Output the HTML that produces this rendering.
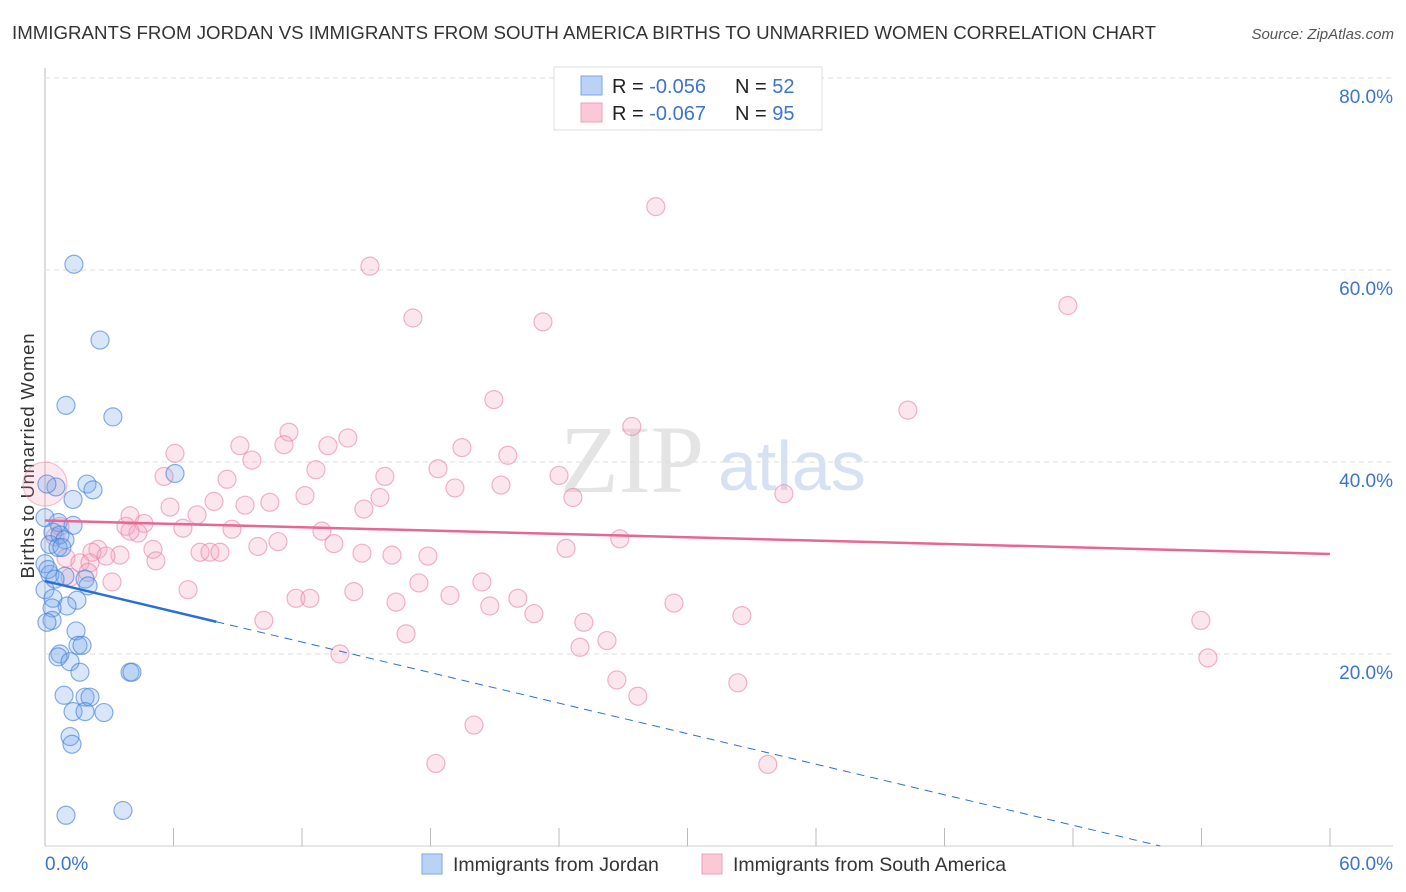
<!DOCTYPE html>
<html><head><meta charset="utf-8"><style>
body{margin:0;background:#fff;font-family:"Liberation Sans",sans-serif;}
#wrap{position:relative;width:1406px;height:892px;overflow:hidden}
</style></head><body>
<div id="wrap">
<svg id="svg" width="1406" height="892" xmlns="http://www.w3.org/2000/svg">
<text x="12" y="39" font-size="18.6" fill="#333" textLength="1144" lengthAdjust="spacingAndGlyphs">IMMIGRANTS FROM JORDAN VS IMMIGRANTS FROM SOUTH AMERICA BIRTHS TO UNMARRIED WOMEN CORRELATION CHART</text>
<text x="1394" y="39" font-size="15" fill="#555" font-style="italic" text-anchor="end">Source: ZipAtlas.com</text>
<text x="0" y="0" transform="translate(34,456) rotate(-90)" font-size="18.5" fill="#333" text-anchor="middle" textLength="245">Births to Unmarried Women</text>
<text x="560" y="492" font-size="96" fill="#e4e4e4" font-family="Liberation Serif,serif">ZIP</text>
<text x="718" y="490" font-size="70" fill="#d6e2f4">atlas</text>
<g id="grid"></g><g id="pts"></g><g id="lines"></g>
<g>
<rect x="554" y="67" width="268" height="63" fill="#fff" stroke="#ddd"/>
<rect x="581" y="76" width="21" height="19" fill="#b9d2f5" stroke="#7aa6e6"/>
<rect x="581" y="103" width="21" height="19" fill="#fac8d7" stroke="#eda1b9"/>
<text x="612" y="93" font-size="20" fill="#222">R = <tspan fill="#3b73d1">-0.056</tspan><tspan x="735">N = </tspan><tspan fill="#3b73d1">52</tspan></text>
<text x="612" y="120" font-size="20" fill="#222">R = <tspan fill="#3b73d1">-0.067</tspan><tspan x="735">N = </tspan><tspan fill="#3b73d1">95</tspan></text>
</g>
<g>
<rect x="422" y="854" width="20" height="20" fill="#b9d2f5" stroke="#7aa6e6"/>
<text x="453" y="871" font-size="19.5" fill="#333">Immigrants from Jordan</text>
<rect x="702" y="854" width="20" height="20" fill="#fac8d7" stroke="#eda1b9"/>
<text x="733" y="871" font-size="19.5" fill="#333">Immigrants from South America</text>
</g>
</svg>
</div>
<script>
const xTicks=[0,6,12,18,24,30,36,42,48,54,60];
const yTicks=[20,40,60,80];
const jordanX=[1.35,2.57,0.98,3.17,6.07,1.96,2.24,0.51,1.31,0,0.61,1.31,0.37,0.7,0.93,0.23,0.61,0,0.23,0.93,1.87,0,0.37,1.49,1.03,0.33,0.33,1.45,1.54,1.73,0.7,0.61,1.17,1.63,3.97,4.06,0.89,1.87,2.1,1.31,1.87,2.75,1.17,1.26,0.98,3.64,0.09,0.14,0.47,0.79,0.09,2.01];
const jordanY=[60.6,52.7,45.9,44.7,38.8,37.7,37.1,37.4,36.1,34.2,33.7,33.4,32.7,32.4,31.9,31.4,31.1,29.4,28.3,28.1,27.8,26.7,25.8,25.6,25,24.8,23.5,22.4,20.9,20.9,20,19.7,19.2,18.1,18.1,18.1,15.7,15.5,15.5,14,14,13.9,11.4,10.6,3.2,3.7,37.7,28.8,27.8,31.1,23.3,27.1];
const saX=[28.52,15.17,47.76,17.18,23.25,20.96,40.29,27.4,11.39,6.07,9.1,14.14,13.21,11.16,19.47,9.66,21.61,5.56,12.65,18.35,15.87,24,8.5,19.14,21.29,7.89,15.64,24.65,9.34,10.5,12.14,34.5,5.84,14.89,3.97,7.1,4.62,3.78,8.73,6.44,0.7,26.84,10.88,12.93,4.34,9.94,13.49,5.04,2.47,2.19,7.24,7.7,8.17,3.5,14.8,16.2,17.88,24.33,5.18,2.85,0.98,1.63,11.72,12.37,3.13,6.68,17.46,20.4,18.91,14.42,22.08,16.39,20.77,29.37,22.83,10.22,25.16,32.54,53.97,16.86,26.24,24.98,13.77,54.3,26.7,32.35,27.68,20.03,18.25,33.75,2.1,1.17,2.01,3.97,0.47];
const saY=[66.6,60.4,56.3,55,54.6,46.5,45.4,43.7,43.1,40.9,41.7,42.5,41.7,41.8,41.5,40.2,40.7,38.5,39.2,39.3,38.5,38.6,38.2,37.3,37.6,35.9,36.3,36.3,35.5,35.8,36.5,36.7,35.3,35.1,34.4,34.5,33.6,33.3,33,33.1,33.3,32,31.7,32.8,32.6,31.2,31.5,30.9,30.9,30.6,30.6,30.6,30.6,30.3,30.5,30.3,30.2,31,29.7,30.2,30,29.5,25.8,25.8,27.5,26.7,27.4,27.5,26.1,26.5,25.8,25.4,25,25.3,24.2,23.5,23.3,24,23.5,22.1,21.4,20.7,20,19.6,17.3,17,15.6,12.6,8.6,8.5,29.5,28,28.5,32.8,32.2];
const jordanTrend=[27.6,-0.53]; const saTrend=[33.9,-0.058];
const X=v=>45+v*(1285/60), Y=v=>846-v*9.6;
const NS='http://www.w3.org/2000/svg';
function mk(tag,attrs,parent){const e=document.createElementNS(NS,tag);for(const k in attrs)e.setAttribute(k,attrs[k]);parent.appendChild(e);return e;}
const svg=document.getElementById('svg'),grid=document.getElementById('grid'),pts=document.getElementById('pts'),lines=document.getElementById('lines');
mk('line',{x1:45,y1:68,x2:45,y2:846,stroke:'#bbb'},grid);
mk('line',{x1:45,y1:846,x2:1393,y2:846,stroke:'#ccc'},grid);
yTicks.forEach(t=>{
 const l=mk('line',{x1:45,y1:Y(t),x2:1393,y2:Y(t),stroke:'#ddd','stroke-dasharray':'5,4'},grid);
 
 
 const tx=mk('text',{x:1393,y:Y(t)+25,'font-size':19,fill:'#3b73d1','text-anchor':'end'},grid);tx.textContent=t.toFixed(1)+'%';
 
 
});
xTicks.forEach(t=>{
 const l=mk('line',{x1:X(t),y1:828,x2:X(t),y2:846,stroke:'#bbb'},grid);
 
 
});
[[0,'start',45],[60,'end',1393]].forEach(([t,a,x])=>{const tx=mk('text',{x:x,y:870,'font-size':19,fill:'#3b73d1','text-anchor':a},grid);tx.textContent=t.toFixed(1)+'%';
 
 });
const big=mk('circle',{cx:X(0),cy:Y(37.7),r:22,fill:'rgba(240,140,170,0.2)',stroke:'rgba(232,130,165,0.5)'},pts);


saX.forEach((v,i)=>{const c=mk('circle',{cx:X(v),cy:Y(saY[i]),r:9,fill:'rgba(245,165,190,0.28)',stroke:'rgba(232,130,165,0.6)','stroke-width':1.2},pts);
 
 });
jordanX.forEach((v,i)=>{const c=mk('circle',{cx:X(v),cy:Y(jordanY[i]),r:9,fill:'rgba(120,165,235,0.28)',stroke:'rgba(70,130,220,0.65)','stroke-width':1.2},pts);
 
 });
const f=(tr,x)=>tr[0]+tr[1]*x;
let l=mk('line',{x1:X(0),y1:Y(f(saTrend,0)),x2:X(60),y2:Y(f(saTrend,60)),stroke:'#e8668f','stroke-width':2.5},lines);


l=mk('line',{x1:X(0),y1:Y(f(jordanTrend,0)),x2:X(8),y2:Y(f(jordanTrend,8)),stroke:'#2a6fd6','stroke-width':2.5},lines);


const xe=-jordanTrend[0]/jordanTrend[1];
l=mk('line',{x1:X(8),y1:Y(f(jordanTrend,8)),x2:X(xe),y2:Y(0),stroke:'#2a6fd6','stroke-width':1,'stroke-dasharray':'8,6'},lines);


</script>
</body></html>
